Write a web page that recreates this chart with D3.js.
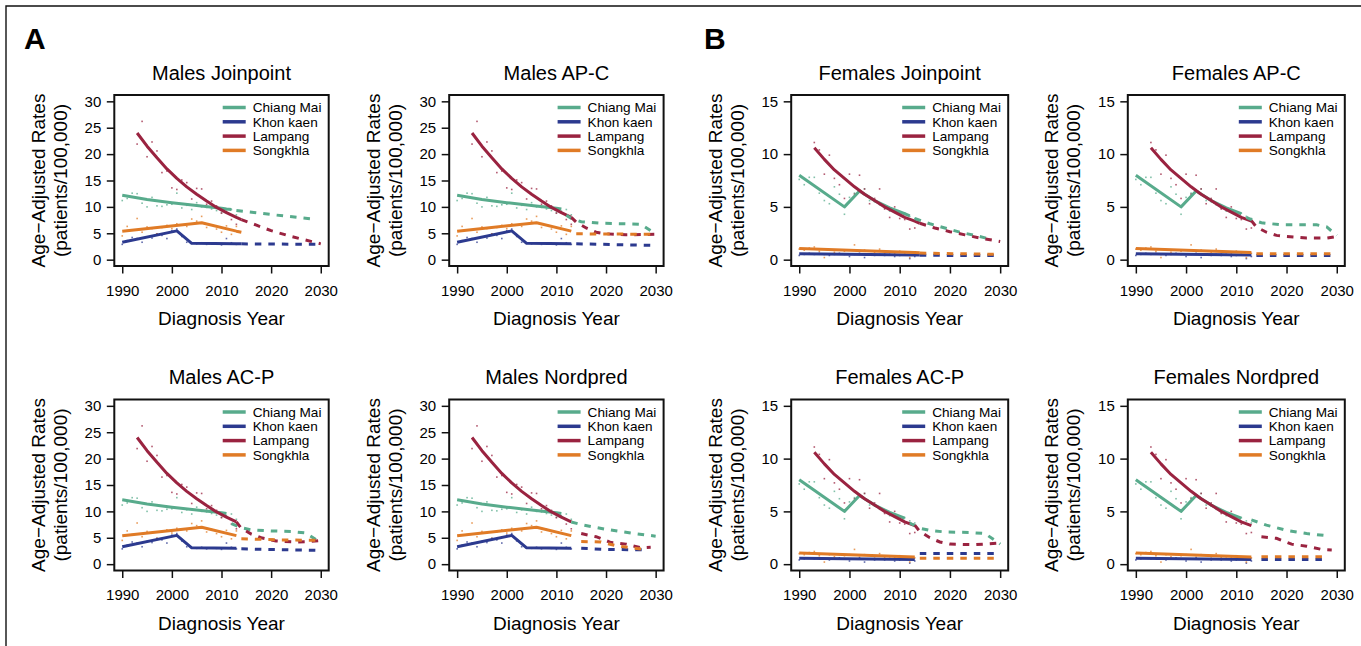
<!DOCTYPE html>
<html>
<head>
<meta charset="utf-8">
<script src="https://cdn.jsdelivr.net/npm/d3@7"></script>
<style>
  body { margin: 0; background: #fff; }
  svg { display: block; }
  text { font-family: "Liberation Sans", Arial, Helvetica, sans-serif; fill: #000; }
</style>
</head>
<body>
<svg id="fig" width="1361" height="646"></svg>
<script>
// ---- categories, ticks ----
const regions = ["Chiang Mai", "Khon kaen", "Lampang", "Songkhla"];
const regionColors = ["#58ab8c", "#2c3a8f", "#9a2340", "#e07b26"];
const methods = ["Joinpoint", "AP-C", "AC-P", "Nordpred"];
const xTicks = [1990, 2000, 2010, 2020, 2030];
const maleTicks = [0, 5, 10, 15, 20, 25, 30];
const femaleTicks = [0, 5, 10, 15];

// ---- observed age-adjusted rates (per 100,000) ----
const obsYears = [1990, 1991, 1992, 1993, 1994, 1995, 1996, 1997, 1998, 1999, 2000, 2001,
                  2002, 2003, 2004, 2005, 2006, 2007, 2008, 2009, 2010, 2011, 2012, 2013];
const lampangYears = [1993, 1994, 1995, 1996, 1997, 1998, 1999, 2000, 2001, 2002, 2003,
                      2004, 2005, 2006, 2007, 2008, 2009, 2010, 2011, 2012, 2013];

const maleObsChiangMai = [11.2, 11.6, 12.6, 12.5, 10.7, 10.0, 11.8, 10.2, 10.1, 10.4, 10.5, 12.6,
                          9.8, 10.3, 9.5, 10.8, 10.0, 9.9, 9.6, 9.3, 8.9, 9.2, 9.5, 8.5];
const maleObsKhonKaen = [2.9, 3.6, 4.2, 4.0, 3.3, 4.3, 4.1, 4.9, 4.6, 4.0, 5.5, 5.8,
                         4.4, 3.3, 3.1, 3.0, 3.2, 2.9, 3.1, 3.0, 2.8, 4.0, 3.2, 2.9];
const maleObsLampang = [21.9, 26.2, 19.5, 22.3, 20.6, 16.5, 16.8, 13.6, 13.3, 15.1, 14.6,
                        11.5, 13.5, 13.4, 10.5, 11.1, 10.2, 8.8, 9.0, 7.6, 6.7];
const maleObsSongkhla = [4.5, 6.3, 5.6, 7.8, 5.2, 6.2, 5.9, 4.9, 6.1, 6.5, 5.9, 6.8,
                         6.6, 6.3, 7.7, 7.3, 8.2, 6.1, 6.6, 5.8, 5.2, 6.4, 4.8, 6.3];

const femaleObsChiangMai = [7.6, 7.1, 7.8, 7.8, 6.3, 5.6, 5.3, 6.9, 6.2, 4.3, 5.9, 6.3,
                            6.6, 6.7, 5.6, 5.5, 5.2, 4.9, 4.6, 4.7, 4.3, 4.4, 4.1, 3.9];
const femaleObsKhonKaen = [0.4, 0.5, 0.6, 0.5, 0.6, 0.5, 0.4, 0.5, 0.6, 0.5, 0.3, 0.5,
                           0.6, 0.2, 0.5, 0.4, 0.5, 0.4, 0.5, 0.3, 0.4, 0.5, 0.1, 0.3];
const femaleObsLampang = [11.1, 10.4, 8.1, 9.9, 7.7, 7.1, 5.8, 8.1, 6.2, 8.0, 6.7,
                          5.3, 5.8, 6.7, 4.8, 4.0, 5.0, 3.9, 3.8, 2.9, 3.0];
const femaleObsSongkhla = [1.0, 0.9, 1.1, 1.2, 0.8, 0.2, 0.9, 0.7, 0.9, 0.8, 0.9, 1.4,
                           0.8, 0.9, 0.5, 0.7, 1.0, 0.6, 0.7, 0.6, 0.8, 0.5, 0.2, 0.6];

// ---- fitted trends over the observed period, [year, rate] ----
const maleFitChiangMai = [[1990, 12.2], [1995, 11.4], [2000, 10.8], [2005, 10.25], [2010, 9.75], [2011, 9.6], [2012, 9.5]];
const maleFitKhonKaen = [[1990, 3.3], [2001, 5.45], [2004, 3.1], [2013, 3.0], [2014, 3.0]];
const maleFitLampang = [[1993, 24.0], [1995, 21.5], [1997, 19.3], [1999, 17.2], [2001, 15.4], [2003, 13.8],
                        [2005, 12.4], [2007, 11.1], [2009, 9.9], [2011, 8.9], [2013, 8.0], [2014, 7.6]];
const maleFitSongkhla = [[1990, 5.4], [2006, 7.0], [2013, 5.4], [2014, 5.2]];

const femaleFitChiangMai = [[1990, 8.0], [1999, 5.0], [2002, 6.5], [2005, 5.6], [2008, 4.9], [2011, 4.35], [2012, 4.15]];
const femaleFitKhonKaen = [[1990, 0.55], [2013, 0.45], [2014, 0.45]];
const femaleFitLampang = [[1993, 10.6], [1995, 9.5], [1997, 8.5], [1999, 7.7], [2001, 6.9], [2003, 6.2],
                          [2005, 5.6], [2007, 5.0], [2009, 4.5], [2011, 4.0], [2013, 3.65], [2014, 3.45]];
const femaleFitSongkhla = [[1990, 1.05], [2013, 0.67], [2014, 0.65]];

// last fitted year shown per method (Chiang Mai, Khon kaen, Lampang, Songkhla)
const fitEndJoinpoint = [2012, 2014, 2014, 2014];
const fitEndOther = [2011, 2013, 2013, 2013];

// ---- projections, [year, rate]; order: Chiang Mai, Khon kaen, Lampang, Songkhla ----
const maleProjJoinpoint = [
  [[2013, 9.3], [2021, 8.45], [2029, 7.65]],
  [[2014, 3.0], [2030, 2.9]],
  [[2014, 7.6], [2018, 6.2], [2020, 5.5], [2024, 4.4], [2030, 3.0]],
  []
];
const maleProjAPC = [
  [[2012, 8.4], [2013, 7.8], [2015, 7.2], [2019, 6.9], [2024, 6.8], [2027, 6.7], [2030, 4.9]],
  [[2014, 3.0], [2030, 2.7]],
  [[2013, 8.0], [2014, 7.1], [2016, 6.0], [2018, 5.2], [2020, 4.9], [2024, 4.7], [2030, 4.8]],
  [[2014, 4.9], [2030, 4.8]]
];
const maleProjACP = [
  [[2012, 7.7], [2014, 6.9], [2016, 6.5], [2020, 6.3], [2024, 6.2], [2027, 5.9], [2030, 4.1]],
  [[2014, 2.9], [2030, 2.6]],
  [[2013, 8.0], [2014, 6.8], [2016, 5.7], [2018, 5.0], [2021, 4.4], [2025, 4.2], [2028, 4.3], [2030, 4.5]],
  [[2014, 4.8], [2022, 4.6], [2030, 4.5]]
];
const maleProjNordpred = [
  [[2013, 8.0], [2015, 7.5], [2020, 6.6], [2025, 5.9], [2030, 5.3]],
  [[2015, 3.0], [2020, 2.8], [2028, 2.7]],
  [[2015, 5.8], [2018, 5.2], [2021, 4.1], [2024, 3.8], [2027, 3.1], [2029, 3.2]],
  [[2015, 4.3], [2019, 4.2], [2022, 3.5], [2025, 3.1], [2028, 2.8]]
];

const femaleProjJoinpoint = [
  [[2013, 3.9], [2016, 3.4], [2019, 3.0], [2022, 2.6], [2025, 2.3], [2028, 1.95]],
  [[2014, 0.42], [2030, 0.38]],
  [[2014, 3.45], [2017, 3.0], [2020, 2.65], [2023, 2.35], [2026, 2.05], [2030, 1.72]],
  [[2014, 0.62], [2030, 0.5]]
];
const femaleProjAPC = [
  [[2012, 4.0], [2013, 3.8], [2015, 3.5], [2019, 3.3], [2026, 3.3], [2028, 3.1], [2030, 2.3]],
  [[2014, 0.4], [2030, 0.4]],
  [[2013, 3.7], [2014, 3.1], [2016, 2.6], [2018, 2.3], [2020, 2.2], [2024, 2.05], [2028, 2.05], [2030, 2.2]],
  [[2014, 0.56], [2030, 0.56]]
];
const femaleProjACP = [
  [[2012, 3.9], [2014, 3.4], [2016, 3.2], [2019, 3.05], [2024, 3.0], [2027, 2.9], [2030, 1.9]],
  [[2014, 1.0], [2030, 1.0]],
  [[2013, 3.7], [2014, 3.1], [2016, 2.5], [2018, 2.1], [2020, 1.9], [2025, 1.85], [2030, 2.0]],
  [[2014, 0.55], [2030, 0.55]]
];
const femaleProjNordpred = [
  [[2013, 4.2], [2016, 3.7], [2020, 3.2], [2024, 2.9], [2028, 2.7]],
  [[2015, 0.45], [2028, 0.45]],
  [[2015, 2.6], [2018, 2.45], [2021, 1.9], [2024, 1.7], [2027, 1.4], [2029, 1.35]],
  [[2015, 0.7], [2028, 0.7]]
];

// ---- assemble per-sex tables ----
function pairs(years, vals) { return years.map((y, i) => [y, vals[i]]); }
const sexData = {
  Males: {
    yMax: 30, ticks: maleTicks,
    obs: [pairs(obsYears, maleObsChiangMai), pairs(obsYears, maleObsKhonKaen),
          pairs(lampangYears, maleObsLampang), pairs(obsYears, maleObsSongkhla)],
    fit: [maleFitChiangMai, maleFitKhonKaen, maleFitLampang, maleFitSongkhla],
    proj: [maleProjJoinpoint, maleProjAPC, maleProjACP, maleProjNordpred]
  },
  Females: {
    yMax: 15, ticks: femaleTicks,
    obs: [pairs(obsYears, femaleObsChiangMai), pairs(obsYears, femaleObsKhonKaen),
          pairs(lampangYears, femaleObsLampang), pairs(obsYears, femaleObsSongkhla)],
    fit: [femaleFitChiangMai, femaleFitKhonKaen, femaleFitLampang, femaleFitSongkhla],
    proj: [femaleProjJoinpoint, femaleProjAPC, femaleProjACP, femaleProjNordpred]
  }
};

// ---- layout ----
const svg = d3.select("#fig");
const boxH = 171;
const panels = [
  { sex: "Males",   m: 0, left: 114.3,  top: 95,    width: 214.4 },
  { sex: "Males",   m: 1, left: 449.2,  top: 95,    width: 214.4 },
  { sex: "Males",   m: 2, left: 114.3,  top: 399.5, width: 214.4 },
  { sex: "Males",   m: 3, left: 449.2,  top: 399.5, width: 214.4 },
  { sex: "Females", m: 0, left: 791.2,  top: 95,    width: 217 },
  { sex: "Females", m: 1, left: 1127.8, top: 95,    width: 217 },
  { sex: "Females", m: 2, left: 791.2,  top: 399.5, width: 217 },
  { sex: "Females", m: 3, left: 1127.8, top: 399.5, width: 217 }
];

// outer frame
svg.append("path")
  .attr("d", "M6,646V6H1361")
  .attr("fill", "none").attr("stroke", "#111").attr("stroke-width", 1.4);

svg.append("text").attr("x", 24).attr("y", 48.5)
  .attr("font-size", 30).attr("font-weight", "bold").text("A");
svg.append("text").attr("x", 704).attr("y", 48.5)
  .attr("font-size", 30).attr("font-weight", "bold").text("B");

panels.forEach(p => {
  const d = sexData[p.sex];
  const pad = 0.04;
  const x = d3.scaleLinear()
    .domain([1990 - 40 * pad, 2030 + 40 * pad])
    .range([p.left, p.left + p.width]);
  const y = d3.scaleLinear()
    .domain([-d.yMax * pad, d.yMax * (1 + pad)])
    .range([p.top + boxH, p.top]);
  const g = svg.append("g");
  const bottom = p.top + boxH;
  const cx = p.left + p.width / 2;

  // title
  g.append("text").attr("x", cx).attr("y", p.top - 15.5)
    .attr("text-anchor", "middle").attr("font-size", 20).text(p.sex + " " + methods[p.m]);

  // axes
  const xAxis = g.append("g").attr("transform", `translate(0,${bottom})`)
    .call(d3.axisBottom(x).tickValues(xTicks).tickFormat(d3.format("d"))
      .tickSize(7.5).tickPadding(11.5));
  const yAxis = g.append("g").attr("transform", `translate(${p.left},0)`)
    .call(d3.axisLeft(y).tickValues(d.ticks).tickSize(7.5).tickPadding(5.5));
  [xAxis, yAxis].forEach(a => {
    a.select(".domain").remove();
    a.selectAll("line").attr("stroke", "#111").attr("stroke-width", 1.5);
    a.selectAll("text").attr("font-size", 15).attr("fill", "#000")
      .attr("font-family", "\"Liberation Sans\", Arial, sans-serif");
  });

  // axis titles
  g.append("text").attr("x", cx).attr("y", bottom + 59)
    .attr("text-anchor", "middle").attr("font-size", 19).text("Diagnosis Year");
  const ym = p.top + boxH / 2;
  g.append("text")
    .attr("transform", `translate(${p.left - 69.5},${ym}) rotate(-90)`)
    .attr("text-anchor", "middle").attr("font-size", 19).text("Age\u2212Adjusted Rates");
  g.append("text")
    .attr("transform", `translate(${p.left - 47.5},${ym}) rotate(-90)`)
    .attr("text-anchor", "middle").attr("font-size", 19).text("(patients/100,000)");

  const line = d3.line().x(v => x(v[0])).y(v => y(v[1]));

  // observed points
  d.obs.forEach((series, i) => {
    g.append("g").selectAll("rect").data(series).join("rect")
      .attr("x", v => x(v[0]) - 0.8).attr("y", v => y(v[1]) - 0.8)
      .attr("width", 1.6).attr("height", 1.6)
      .attr("fill", regionColors[i]).attr("opacity", 0.75);
  });

  // fitted trends
  const ends = p.m === 0 ? fitEndJoinpoint : fitEndOther;
  d.fit.forEach((series, i) => {
    g.append("path").datum(series.filter(v => v[0] <= ends[i]))
      .attr("d", line).attr("fill", "none")
      .attr("stroke", regionColors[i]).attr("stroke-width", 3)
      .attr("stroke-linejoin", "round");
  });

  // projections
  d.proj[p.m].forEach((series, i) => {
    if (!series.length) return;
    g.append("path").datum(series)
      .attr("d", line).attr("fill", "none")
      .attr("stroke", regionColors[i]).attr("stroke-width", 3)
      .attr("stroke-dasharray", "6.5,7");
  });

  // box
  g.append("rect").attr("x", p.left).attr("y", p.top)
    .attr("width", p.width).attr("height", boxH)
    .attr("fill", "none").attr("stroke", "#111").attr("stroke-width", 2);

  // legend (anchored to the top-right corner)
  const right = p.left + p.width;
  regions.forEach((r, i) => {
    const ly = p.top + 12.5 + i * 14.3;
    g.append("line").attr("x1", right - 106).attr("x2", right - 83)
      .attr("y1", ly).attr("y2", ly)
      .attr("stroke", regionColors[i]).attr("stroke-width", 3.5);
    g.append("text").attr("x", right - 76).attr("y", ly + 4.7)
      .attr("font-size", 13.6).text(r);
  });
});
</script>
</body>
</html>
